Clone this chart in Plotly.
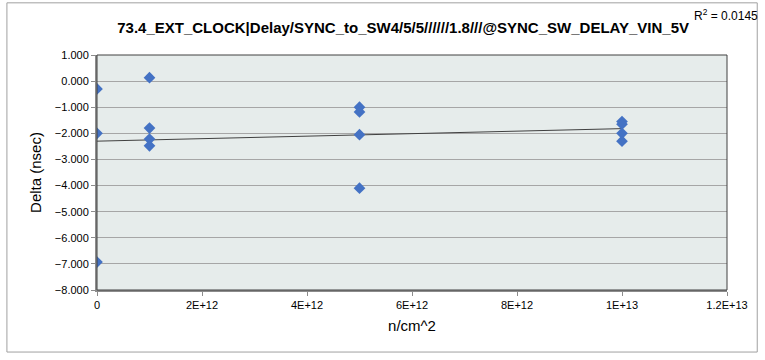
import numpy as np
import plotly.graph_objects as go

# Data
fluence = [0, 0, 0,
           1e12, 1e12, 1e12, 1e12,
           5e12, 5e12, 5e12, 5e12,
           1e13, 1e13, 1e13, 1e13]
delta = [-0.30, -2.00, -6.93,
         0.13, -1.80, -2.22, -2.48,
         -1.00, -1.18, -2.05, -4.10,
         -1.55, -1.65, -2.00, -2.30]

y_ticks = [1, 0, -1, -2, -3, -4, -5, -6, -7, -8]
x_tickvals = [0, 2e12, 4e12, 6e12, 8e12, 1e13, 1.2e13]
x_ticktext = ["0", "2E+12", "4E+12", "6E+12", "8E+12", "1E+13", "1.2E+13"]

title = "73.4_EXT_CLOCK|Delay/SYNC_to_SW4/5/5//////1.8///@SYNC_SW_DELAY_VIN_5V"
r2_text = "R<sup>2</sup> = 0.0145"

# Linear trendline
slope, intercept = np.polyfit(fluence, delta, 1)
tx = [min(fluence), max(fluence)]
ty = [intercept + slope * v for v in tx]

font = "Liberation Sans"

fig = go.Figure()
fig.add_trace(go.Scatter(x=tx, y=ty, mode="lines",
                         line=dict(color="#404040", width=1), hoverinfo="skip"))
fig.add_trace(go.Scatter(x=fluence, y=delta, mode="markers",
                         marker=dict(symbol="diamond", size=9, color="#4472C4")))

fig.update_layout(
    width=765, height=360,
    margin=dict(l=97, r=38, t=55, b=70),
    paper_bgcolor="white",
    plot_bgcolor="#E6ECEB",
    showlegend=False,
    font=dict(family=font, size=11, color="#000000"),
    title=dict(text="<b>" + title + "</b>", x=0.527, xanchor="center",
               y=0.922, yanchor="middle", font=dict(size=15, family=font)),
    xaxis=dict(range=[0, 1.2e13], tickvals=x_tickvals, ticktext=x_ticktext,
               showgrid=False, zeroline=False, showline=True,
               linecolor="#8C8C8C", linewidth=2, ticks="outside",
               ticklen=4, tickcolor="#8C8C8C",
               title=dict(text="n/cm^2", font=dict(size=15), standoff=10),
               tickfont=dict(size=11)),
    yaxis=dict(range=[-8, 1], tickvals=y_ticks, tickformat=".3f",
               showgrid=True, gridcolor="#A6A6A6", gridwidth=1,
               zeroline=False, showline=True, linecolor="#8C8C8C",
               linewidth=2, ticks="outside", ticklen=4, tickcolor="#8C8C8C",
               title=dict(text="Delta (nsec)", font=dict(size=15), standoff=10),
               tickfont=dict(size=11)),
    shapes=[
        dict(type="rect", xref="paper", yref="paper", x0=0, x1=1, y0=0, y1=1,
             line=dict(color="#404040", width=1), fillcolor="rgba(0,0,0,0)"),
        dict(type="rect", xref="paper", yref="paper", x0=-0.143, x1=1.048,
             y0=-0.264, y1=1.222, line=dict(color="#A0A0A0", width=1),
             fillcolor="rgba(0,0,0,0)"),
    ],
    annotations=[
        dict(text=r2_text, xref="paper", yref="paper", x=1.052, y=1.17,
             xanchor="right", yanchor="middle", showarrow=False,
             font=dict(size=12, family=font)),
    ],
)

fig.write_html("out.html", config={"displayModeBar": False},
               post_script="document.body.style.margin='0';")
